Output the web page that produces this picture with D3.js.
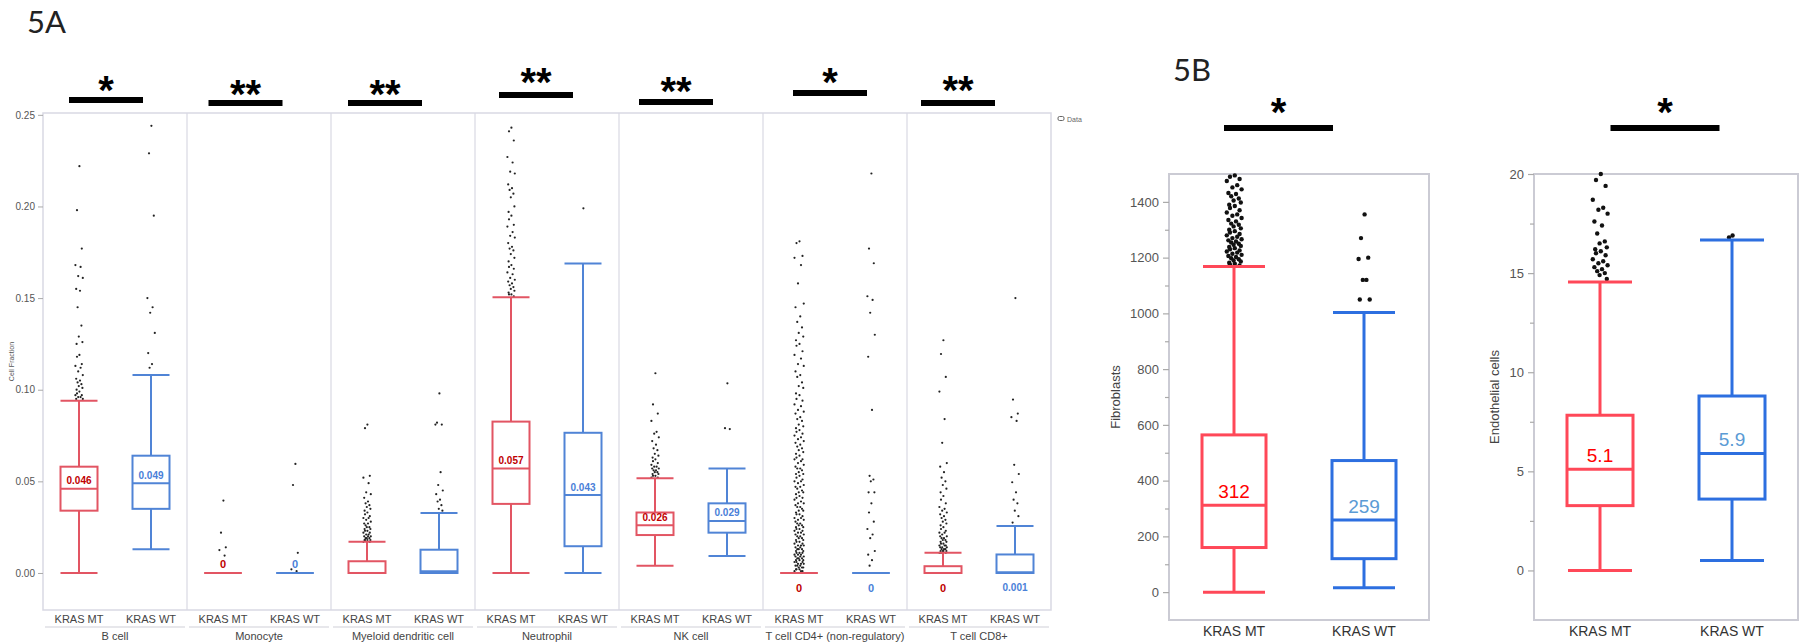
<!DOCTYPE html>
<html lang="en">
<head>
<meta charset="UTF-8">
<title>KRAS MT vs KRAS WT cell fractions</title>
<script src="https://d3js.org/d3.v7.min.js"></script>
<style>
    body { margin: 0; background: #fff; overflow: hidden; }
    text { font-family: "Liberation Sans", Arial, sans-serif; }
</style>
</head>
<body>
<div id="chart"></div>
<script>
    // ---------- 5A data ----------
    const cellTypes = ["B cell", "Monocyte", "Myeloid dendritic cell", "Neutrophil", "NK cell",
        "T cell CD4+ (non-regulatory)", "T cell CD8+"];
    const groups = ["KRAS MT", "KRAS WT"];
    const yTicksA = [0, 0.05, 0.10, 0.15, 0.20, 0.25];

    // [lower whisker, q1, median, q3, upper whisker]
    const boxMT = [
        [0, 0.034, 0.046, 0.058, 0.094],
        [0, 0, 0, 0, 0],
        [0, 0, 0, 0.0064, 0.017],
        [0, 0.0377, 0.057, 0.0826, 0.1504],
        [0.004, 0.0207, 0.026, 0.033, 0.0517],
        [0, 0, 0, 0, 0],
        [0, 0, 0, 0.0037, 0.011]
    ];
    const boxWT = [
        [0.013, 0.035, 0.049, 0.064, 0.108],
        [0, 0, 0, 0, 0],
        [0, 0, 0.001, 0.0127, 0.0327],
        [0, 0.0146, 0.0425, 0.0765, 0.1689],
        [0.0092, 0.022, 0.0284, 0.038, 0.057],
        [0, 0, 0, 0, 0],
        [0, 0, 0.0004, 0.0101, 0.0257]
    ];
    const medLabelMT = ["0.046", "0", "", "0.057", "0.026", "0", "0"];
    const medLabelWT = ["0.049", "0", "", "0.043", "0.029", "0", "0.001"];
    const medLabelBelow = [false, false, false, false, false, true, true];
    const sigA = ["*", "**", "**", "**", "**", "*", "**"];

    const outMT = [
        [0.222, 0.198, 0.177, 0.168, 0.167, 0.162, 0.161, 0.155, 0.154, 0.145, 0.135, 0.129, 0.126, 0.125,
            0.119, 0.118, 0.114, 0.113, 0.112, 0.110, 0.108, 0.106, 0.105, 0.104, 0.103, 0.102, 0.101, 0.100,
            0.099, 0.098, 0.097, 0.097, 0.096, 0.096, 0.095, 0.095],
        [0.0395, 0.022, 0.014, 0.0125, 0.0095],
        [0.081, 0.079, 0.053, 0.052, 0.049, 0.044, 0.043, 0.041, 0.039, 0.038, 0.037, 0.036, 0.035, 0.034,
            0.033, 0.032, 0.031, 0.030, 0.030, 0.029, 0.028, 0.027, 0.027, 0.026, 0.025, 0.025, 0.024, 0.024,
            0.023, 0.023, 0.022, 0.022, 0.021, 0.021, 0.020, 0.020, 0.020, 0.019, 0.019, 0.019, 0.018, 0.018,
            0.018, 0.018, 0.017, 0.017],
        [0.243, 0.241, 0.236, 0.227, 0.224, 0.219, 0.218, 0.212, 0.210, 0.209, 0.207, 0.205, 0.200, 0.197,
            0.195, 0.193, 0.190, 0.189, 0.186, 0.184, 0.183, 0.180, 0.178, 0.177, 0.176, 0.174, 0.172, 0.170,
            0.168, 0.167, 0.166, 0.164, 0.163, 0.161, 0.160, 0.159, 0.158, 0.157, 0.156, 0.155, 0.154, 0.153,
            0.152, 0.152, 0.151],
        [0.109, 0.092, 0.087, 0.083, 0.077, 0.076, 0.074, 0.072, 0.070, 0.068, 0.067, 0.065, 0.064, 0.063,
            0.062, 0.061, 0.060, 0.059, 0.058, 0.058, 0.057, 0.057, 0.056, 0.056, 0.055, 0.055, 0.054, 0.054,
            0.053, 0.053, 0.052, 0.052],
        [0.181, 0.180, 0.173, 0.172, 0.168, 0.158, 0.147, 0.145, 0.140, 0.137, 0.134, 0.131, 0.129, 0.127,
            0.125, 0.124, 0.121, 0.119, 0.117, 0.114, 0.113, 0.110, 0.108, 0.107, 0.104, 0.102, 0.101, 0.098,
            0.097, 0.095, 0.094, 0.092, 0.091, 0.089, 0.088, 0.087, 0.085, 0.084, 0.083, 0.081, 0.080, 0.079,
            0.078, 0.077, 0.076, 0.075, 0.074, 0.073, 0.072, 0.071, 0.070, 0.069, 0.068, 0.067, 0.066, 0.065,
            0.064, 0.063, 0.062, 0.062, 0.061, 0.060, 0.059, 0.058, 0.057, 0.057, 0.056, 0.055, 0.054, 0.054,
            0.053, 0.052, 0.051, 0.050, 0.050, 0.049, 0.048, 0.047, 0.047, 0.046, 0.045, 0.044, 0.044, 0.043,
            0.042, 0.041, 0.041, 0.040, 0.039, 0.038, 0.038, 0.037, 0.036, 0.036, 0.035, 0.034, 0.034, 0.033,
            0.032, 0.032, 0.031, 0.030, 0.030, 0.029, 0.029, 0.028, 0.027, 0.027, 0.026, 0.026, 0.025, 0.025,
            0.024, 0.024, 0.023, 0.023, 0.022, 0.022, 0.021, 0.021, 0.020, 0.020, 0.019, 0.019, 0.018, 0.018,
            0.017, 0.017, 0.016, 0.016, 0.015, 0.015, 0.015, 0.014, 0.014, 0.013, 0.013, 0.013, 0.012, 0.012,
            0.011, 0.011, 0.011, 0.010, 0.010, 0.010, 0.009, 0.009, 0.009, 0.008, 0.008, 0.008, 0.007, 0.007,
            0.007, 0.006, 0.006, 0.006, 0.005, 0.005, 0.005, 0.004, 0.004, 0.004, 0.003, 0.003, 0.003, 0.002,
            0.002, 0.002, 0.001, 0.001, 0.001],
        [0.127, 0.1195, 0.107, 0.099, 0.084, 0.071, 0.060, 0.058, 0.055, 0.052, 0.050, 0.048, 0.046, 0.044,
            0.042, 0.040, 0.038, 0.036, 0.035, 0.034, 0.033, 0.032, 0.031, 0.030, 0.029, 0.028, 0.027, 0.026,
            0.025, 0.024, 0.023, 0.022, 0.022, 0.021, 0.020, 0.020, 0.019, 0.019, 0.018, 0.018, 0.017, 0.017,
            0.016, 0.016, 0.015, 0.015, 0.015, 0.014, 0.014, 0.014, 0.013, 0.013, 0.013, 0.012, 0.012, 0.012,
            0.012, 0.011, 0.011, 0.011]
    ];
    const outWT = [
        [0.244, 0.229, 0.195, 0.150, 0.145, 0.142, 0.131, 0.120, 0.114, 0.112],
        [0.0595, 0.048, 0.011, 0.002, 0.001],
        [0.098, 0.082, 0.081, 0.081, 0.055, 0.048, 0.045, 0.043, 0.040, 0.039, 0.037, 0.035, 0.034],
        [0.199],
        [0.1035, 0.079, 0.0785],
        [0.218, 0.177, 0.169, 0.151, 0.149, 0.142, 0.130, 0.118, 0.089, 0.053, 0.051, 0.050, 0.044, 0.044,
            0.038, 0.033, 0.028, 0.024, 0.021, 0.019, 0.012, 0.010, 0.007, 0.004],
        [0.150, 0.0946, 0.087, 0.085, 0.083, 0.059, 0.054, 0.0495, 0.044, 0.040, 0.038, 0.034, 0.031, 0.0275]
    ];

    // ---------- 5B data ----------
    const fibroBox = [[0, 160, 312, 564, 1168], [16, 120, 259, 472, 1003]];
    const fibroLabels = ["312", "259"];
    const fibroTicks = [0, 200, 400, 600, 800, 1000, 1200, 1400];
    const fibroMinor = [100, 300, 500, 700, 900, 1100, 1300];
    const fibroOut = [
        [1495, 1490, 1482, 1475, 1460, 1452, 1445, 1432, 1428, 1420, 1412, 1405, 1398, 1390, 1385, 1378, 1370,
            1362, 1355, 1350, 1342, 1335, 1330, 1322, 1318, 1312, 1305, 1300, 1295, 1290, 1285, 1280, 1275,
            1270, 1266, 1262, 1258, 1254, 1250, 1246, 1242, 1238, 1234, 1230, 1226, 1222, 1218, 1214, 1210,
            1206, 1202, 1198, 1194, 1190, 1186, 1182, 1178, 1175, 1172],
        [1355, 1270, 1200, 1195, 1120, 1120, 1050, 1050]
    ];
    const endoBox = [[0, 3.27, 5.1, 7.83, 14.55], [0.5, 3.6, 5.9, 8.8, 16.67]];
    const endoLabels = ["5.1", "5.9"];
    const endoTicks = [0, 5, 10, 15, 20];
    const endoMinor = [2.5, 7.5, 12.5, 17.5];
    const endoOut = [
        [20, 19.7, 19.4, 18.7, 18.3, 18.2, 18.0, 17.6, 17.4, 17.0, 16.6, 16.5, 16.3, 16.2, 16.1, 16.0, 15.9,
            15.7, 15.6, 15.5, 15.4, 15.3, 15.2, 15.1, 15.0, 14.9, 14.7],
        [16.9, 16.8]
    ];
    const sigB = ["*", "*"];

    // ---------- drawing ----------
    const svg = d3.select("#chart").append("svg")
        .attr("width", 1800)
        .attr("height", 642);

    const RED_A = "#e25563", BLUE_A = "#5084d6";
    const RED_B = "#ff4858", BLUE_B = "#2d6fe0";
    const FRAME = "#d9d9e3";

    // fixed jitter pattern for overlapping outliers
    const jit = [0.1, -0.5, 0.7, -0.9, 0.4, -0.2, 0.95, -0.7, 0.25, -0.35, 0.6, -0.05, 0.85, -0.6];

    function drawBox(g, cx, s, y, bw, cw, color, sw) {
        g.append("line").attr("x1", cx).attr("x2", cx).attr("y1", y(s[0])).attr("y2", y(s[1]))
            .attr("stroke", color).attr("stroke-width", sw);
        g.append("line").attr("x1", cx).attr("x2", cx).attr("y1", y(s[3])).attr("y2", y(s[4]))
            .attr("stroke", color).attr("stroke-width", sw);
        [s[0], s[4]].forEach(v => {
            g.append("line").attr("x1", cx - cw / 2).attr("x2", cx + cw / 2).attr("y1", y(v)).attr("y2", y(v))
                .attr("stroke", color).attr("stroke-width", sw);
        });
        g.append("rect").attr("x", cx - bw / 2).attr("y", y(s[3]))
            .attr("width", bw).attr("height", Math.max(0, y(s[1]) - y(s[3])))
            .attr("fill", "none").attr("stroke", color).attr("stroke-width", sw);
        g.append("line").attr("x1", cx - bw / 2).attr("x2", cx + bw / 2).attr("y1", y(s[2])).attr("y2", y(s[2]))
            .attr("stroke", color).attr("stroke-width", sw);
    }

    function drawPoints(g, cx, vals, y, spread, r, fill) {
        g.selectAll(null).data(vals).enter().append("circle")
            .attr("cx", (d, i) => cx + jit[i % jit.length] * spread)
            .attr("cy", d => y(d))
            .attr("r", r)
            .attr("fill", fill);
    }

    function sigMark(label, cx, barY, barW, starY) {
        svg.append("rect").attr("x", cx - barW / 2).attr("y", barY - 3)
            .attr("width", barW).attr("height", 6).attr("fill", "#000");
        svg.append("text").attr("x", cx).attr("y", starY + 16)
            .attr("text-anchor", "middle")
            .style("font-size", "40px").style("font-weight", "bold")
            .text(label);
    }

    // ---------- panel 5A ----------
    const A = { left: 43, right: 1051, top: 113, bottom: 610 };
    const yA = d3.scaleLinear().domain([-0.0202, 0.251]).range([A.bottom, A.top]);
    const xA = d3.scaleBand().domain(cellTypes).range([A.left, A.right]);
    const xG = d3.scaleBand().domain(groups).range([0, xA.bandwidth()]);
    const gA = svg.append("g");

    svg.append("text").attr("x", 27).attr("y", 33)
        .style("font-family", "Lato, 'Open Sans', sans-serif").style("font-size", "31px").attr("fill", "#222")
        .text("5A");

    gA.append("rect").attr("x", A.left).attr("y", A.top)
        .attr("width", A.right - A.left).attr("height", A.bottom - A.top)
        .attr("fill", "none").attr("stroke", FRAME).attr("stroke-width", 1.5);
    cellTypes.slice(1).forEach(c => {
        gA.append("line").attr("x1", xA(c)).attr("x2", xA(c)).attr("y1", A.top).attr("y2", A.bottom)
            .attr("stroke", FRAME).attr("stroke-width", 1.2);
    });

    const axA = gA.append("g").attr("transform", `translate(${A.left},0)`)
        .call(d3.axisLeft(yA).tickValues(yTicksA).tickFormat(d3.format(".2f")).tickSize(5));
    axA.select(".domain").remove();
    axA.selectAll(".tick line").attr("stroke", "#aaa");
    axA.selectAll(".tick text").attr("fill", "#555").style("font-size", "10px")
        .style("font-family", "'Liberation Sans', Arial, sans-serif");

    gA.append("text").attr("transform", `translate(14,${(A.top + A.bottom) / 2}) rotate(-90)`)
        .attr("text-anchor", "middle").style("font-size", "7px").attr("fill", "#555")
        .text("Cell Fraction");

    // legend marker
    gA.append("rect").attr("x", 1058).attr("y", 116.5).attr("width", 6).attr("height", 4).attr("rx", 1.5)
        .attr("fill", "none").attr("stroke", "#666").attr("stroke-width", 1);
    gA.append("text").attr("x", 1067).attr("y", 121.5).style("font-size", "7px").attr("fill", "#666").text("Data");

    cellTypes.forEach((c, i) => {
        const x0 = xA(c);
        const cMT = x0 + xG("KRAS MT") + xG.bandwidth() / 2;
        const cWT = x0 + xG("KRAS WT") + xG.bandwidth() / 2;
        const spreadMT = i === 5 ? 5 : 4;
        drawPoints(gA, cMT, outMT[i], yA, spreadMT, 1.1, "#222");
        drawPoints(gA, cWT, outWT[i], yA, 4, 1.1, "#222");
        drawBox(gA, cMT, boxMT[i], yA, 37, 37, RED_A, 2);
        drawBox(gA, cWT, boxWT[i], yA, 37, 37, BLUE_A, 2);

        [[cMT, boxMT[i], medLabelMT[i], "#c00000"], [cWT, boxWT[i], medLabelWT[i], "#4a80d8"]].forEach(([cx, s, lab, col]) => {
            if (!lab) return;
            const ty = medLabelBelow[i] ? yA(s[2]) + 19 : yA(s[2]) - 4.5;
            gA.append("text").attr("x", cx).attr("y", ty).attr("text-anchor", "middle")
                .style("font-size", lab === "0" ? "11px" : "10px").style("font-weight", "bold")
                .attr("fill", col).text(lab);
        });

        groups.forEach(gname => {
            gA.append("text").attr("x", x0 + xG(gname) + xG.bandwidth() / 2).attr("y", 623)
                .attr("text-anchor", "middle").style("font-size", "11px").attr("fill", "#444").text(gname);
        });
        gA.append("line").attr("x1", x0 + 2).attr("x2", x0 + xA.bandwidth() - 2).attr("y1", 627).attr("y2", 627)
            .attr("stroke", "#d0d0d8").attr("stroke-width", 1.2);
        gA.append("text").attr("x", x0 + xA.bandwidth() / 2).attr("y", 639.5)
            .attr("text-anchor", "middle").style("font-size", "11px").attr("fill", "#444").text(c);
    });

    // significance bars over 5A
    const sigPosA = [[106, 100, 88], [245.5, 103, 92], [385, 103, 92], [536, 95, 80], [676, 102, 89], [830, 93, 80], [958, 103, 88]];
    sigA.forEach((lab, i) => sigMark(lab, sigPosA[i][0], sigPosA[i][1], 74, sigPosA[i][2]));

    // ---------- panel 5B ----------
    svg.append("text").attr("x", 1173).attr("y", 81)
        .style("font-family", "Lato, 'Open Sans', sans-serif").style("font-size", "31px").attr("fill", "#222")
        .text("5B");

    const panelsB = [
        { title: "Fibroblasts", x0: 1169, x1: 1429, dom: [-100, 1500], ticks: fibroTicks, minor: fibroMinor,
            box: fibroBox, labels: fibroLabels, out: fibroOut, titleX: 1120, bw: 64, sigX: 1278.5 },
        { title: "Endothelial cells", x0: 1534, x1: 1798, dom: [-2.5, 20], ticks: endoTicks, minor: endoMinor,
            box: endoBox, labels: endoLabels, out: endoOut, titleX: 1499, bw: 66, sigX: 1665 }
    ];
    const B = { top: 174, bottom: 620 };

    panelsB.forEach((p, k) => {
        const g = svg.append("g");
        const y = d3.scaleLinear().domain(p.dom).range([B.bottom, B.top]);
        const x = d3.scaleBand().domain(groups).range([p.x0, p.x1]);

        g.append("rect").attr("x", p.x0).attr("y", B.top).attr("width", p.x1 - p.x0).attr("height", B.bottom - B.top)
            .attr("fill", "none").attr("stroke", "#cbcbd4").attr("stroke-width", 2);

        const ax = g.append("g").attr("transform", `translate(${p.x0},0)`)
            .call(d3.axisLeft(y).tickValues(p.ticks).tickFormat(d3.format("d")).tickSize(6).tickPadding(4));
        ax.select(".domain").remove();
        ax.selectAll(".tick line").attr("stroke", "#aaa").attr("stroke-width", 1.2);
        ax.selectAll(".tick text").attr("fill", "#555").style("font-size", "13px");
        const axm = g.append("g").attr("transform", `translate(${p.x0},0)`)
            .call(d3.axisLeft(y).tickValues(p.minor).tickSize(4).tickFormat(""));
        axm.select(".domain").remove();
        axm.selectAll(".tick line").attr("stroke", "#aaa").attr("stroke-width", 1.2);

        g.append("text").attr("transform", `translate(${p.titleX},${(B.top + B.bottom) / 2}) rotate(-90)`)
            .attr("text-anchor", "middle").style("font-size", "13px").attr("fill", "#444").text(p.title);

        groups.forEach((gname, j) => {
            const cx = x(gname) + x.bandwidth() / 2;
            const col = j === 0 ? RED_B : BLUE_B;
            drawPoints(g, cx, p.out[j], y, j === 0 ? 8 : 6, 2.2, "#111");
            drawBox(g, cx, p.box[j], y, p.bw, p.bw - 2, col, 3);
            g.append("text").attr("x", cx).attr("y", y(p.box[j][2]) - 7).attr("text-anchor", "middle")
                .style("font-size", "19px").attr("fill", j === 0 ? "#ff0000" : "#5b9bd5").text(p.labels[j]);
            g.append("text").attr("x", cx).attr("y", 636).attr("text-anchor", "middle")
                .style("font-size", "14px").attr("fill", "#333").text(gname);
        });

        sigMark(sigB[k], p.sigX, 128, 109, 110);
    });
</script>
</body>
</html>
